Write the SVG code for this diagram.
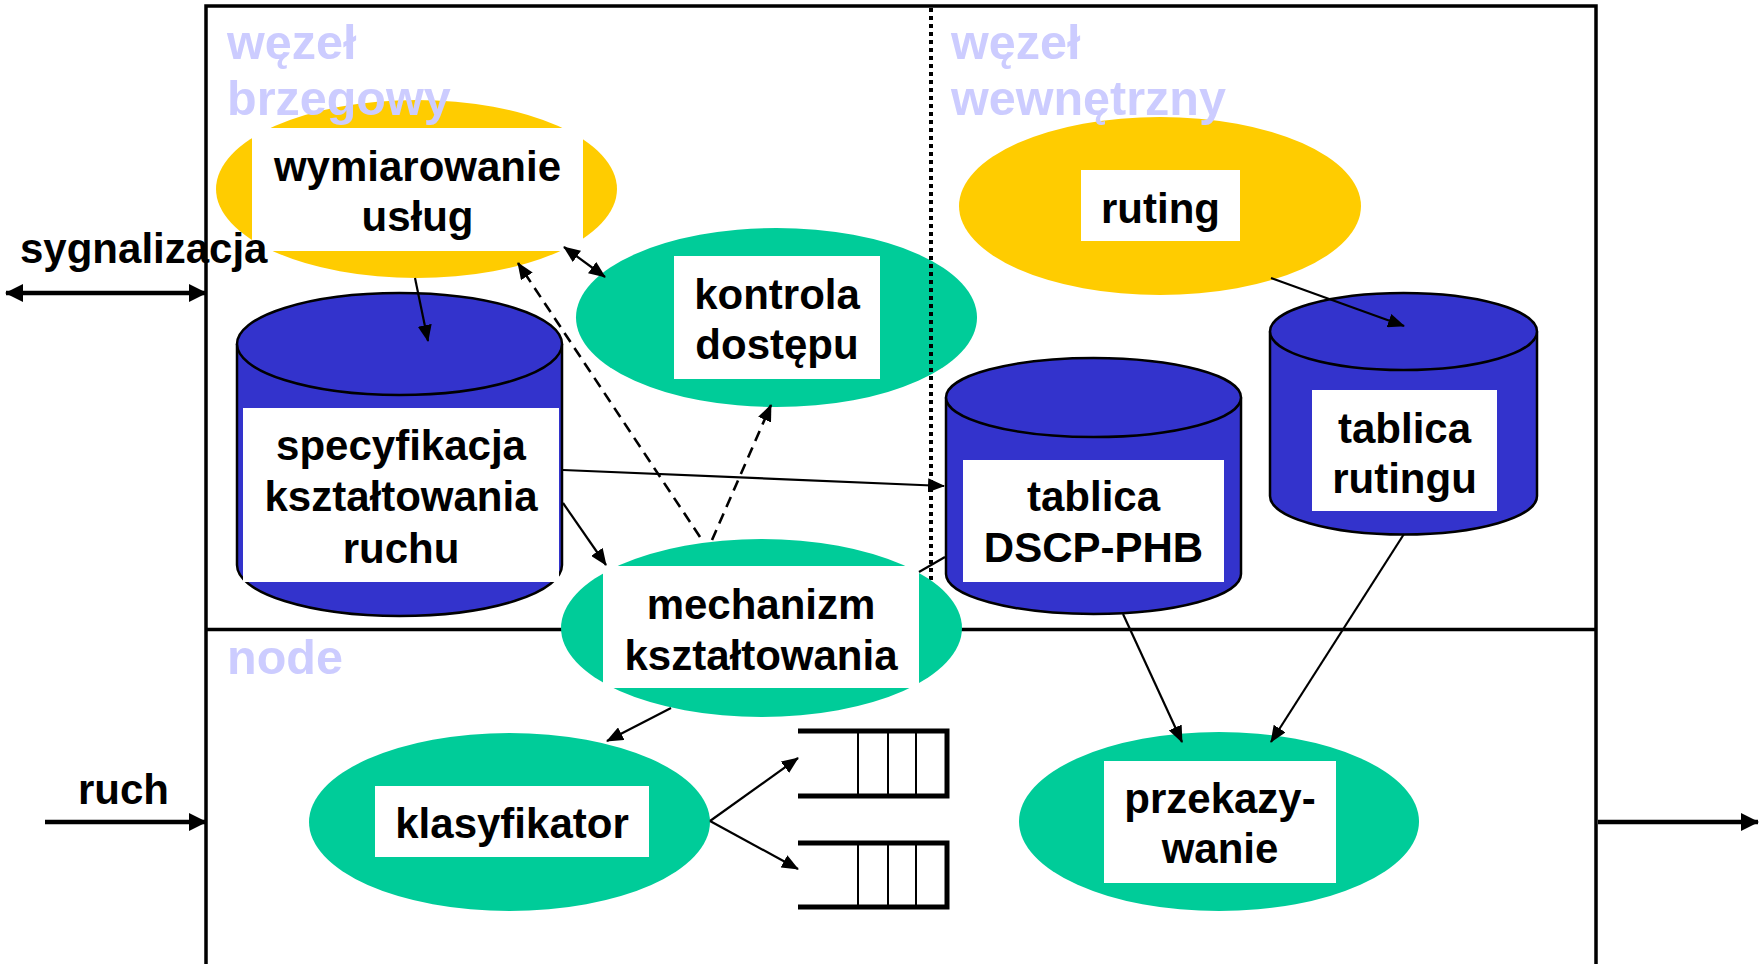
<svg xmlns="http://www.w3.org/2000/svg" width="1762" height="964" viewBox="0 0 1762 964">
<style>
  .lbl{font-family:"Liberation Sans",Arial,sans-serif;font-weight:bold;font-size:42px;fill:#000;text-anchor:middle}
  .out{font-family:"Liberation Sans",Arial,sans-serif;font-weight:bold;font-size:42px;fill:#000}
  .zone{font-family:"Liberation Sans",Arial,sans-serif;font-weight:bold;font-size:48.5px;fill:#CCCCFF}
  .box{fill:#fff}
  .yel{fill:#FFCC00}
  .grn{fill:#00CC99}
  .cyl{fill:#3333CC;stroke:#000;stroke-width:2.5}
  .thin{stroke:#000;stroke-width:2.2;fill:none}
  .thick{stroke:#000;stroke-width:4.5;fill:none}
  .dash{stroke:#000;stroke-width:2.6;fill:none;stroke-dasharray:11 7}
  .q{stroke:#000;fill:none}
</style>
<defs>
  <marker id="ah" markerUnits="userSpaceOnUse" viewBox="0 0 17 14" refX="16" refY="7" markerWidth="17" markerHeight="14" orient="auto-start-reverse">
    <path d="M0,0 L17,7 L0,14 Z" fill="#000"/>
  </marker>
  <marker id="ahb" markerUnits="userSpaceOnUse" viewBox="0 0 18 18" refX="17" refY="9" markerWidth="18" markerHeight="18" orient="auto-start-reverse">
    <path d="M0,0 L18,9 L0,18 Z" fill="#000"/>
  </marker>
</defs>

<g id="kontrola">
  <ellipse class="grn" cx="776.5" cy="317.5" rx="200.5" ry="89.5"/>
  <rect class="box" x="674" y="256" width="206" height="123"/>
  <text class="lbl" x="777" y="309">kontrola</text>
  <text class="lbl" x="777" y="359">dostępu</text>
</g>

<g id="frame">
  <path d="M206,966 V6 H1596 V966" fill="none" stroke="#000" stroke-width="3.5"/>
  <line x1="206" y1="629.5" x2="1596" y2="629.5" stroke="#000" stroke-width="3.5"/>
  <line x1="931" y1="8" x2="931" y2="628" stroke="#000" stroke-width="4" stroke-dasharray="4 4"/>
</g>

<g id="wymiarowanie">
  <ellipse class="yel" cx="416.5" cy="189" rx="200.5" ry="89"/>
  <rect class="box" x="252" y="128" width="331" height="123"/>
  <text class="lbl" x="417.5" y="181">wymiarowanie</text>
  <text class="lbl" x="417.5" y="231">usług</text>
</g>

<g id="ruting">
  <ellipse class="yel" cx="1160" cy="206" rx="201" ry="89"/>
  <rect class="box" x="1081" y="170" width="159" height="71"/>
  <text class="lbl" x="1160.5" y="223">ruting</text>
</g>

<g id="specyfikacja">
  <path class="cyl" d="M237,344 V565 A162.5,51 0 0 0 562,565 V344"/>
  <ellipse class="cyl" cx="399.5" cy="344" rx="162.5" ry="51"/>
  <rect class="box" x="243" y="408" width="316" height="174"/>
  <text class="lbl" x="401" y="460">specyfikacja</text>
  <text class="lbl" x="401" y="511">kształtowania</text>
  <text class="lbl" x="401" y="563">ruchu</text>
</g>

<g id="dscp">
  <path class="cyl" d="M946,397.5 V574 A147.5,40 0 0 0 1241,574 V397.5"/>
  <ellipse class="cyl" cx="1093.5" cy="397.5" rx="147.5" ry="39.5"/>
  <rect class="box" x="963" y="460" width="261" height="122"/>
  <text class="lbl" x="1093.5" y="511">tablica</text>
  <text class="lbl" x="1093.5" y="562">DSCP-PHB</text>
</g>

<g id="tablica-rutingu">
  <path class="cyl" d="M1270,331.5 V496 A133.5,38.5 0 0 0 1537,496 V331.5"/>
  <ellipse class="cyl" cx="1403.5" cy="331.5" rx="133.5" ry="38.5"/>
  <rect class="box" x="1312" y="390" width="185" height="121"/>
  <text class="lbl" x="1404.5" y="443">tablica</text>
  <text class="lbl" x="1404.5" y="493">rutingu</text>
</g>

<g id="mechanizm">
  <ellipse class="grn" cx="761.5" cy="628" rx="200.5" ry="89"/>
  <rect class="box" x="603" y="566" width="316" height="122"/>
  <text class="lbl" x="761" y="619">mechanizm</text>
  <text class="lbl" x="761" y="670">kształtowania</text>
</g>

<g id="klasyfikator">
  <ellipse class="grn" cx="509.5" cy="822" rx="200.5" ry="89"/>
  <rect class="box" x="375" y="786" width="274" height="71"/>
  <text class="lbl" x="512" y="838">klasyfikator</text>
</g>

<g id="przekazywanie">
  <ellipse class="grn" cx="1219" cy="821.5" rx="200" ry="89.5"/>
  <rect class="box" x="1104" y="761" width="232" height="122"/>
  <text class="lbl" x="1220" y="813">przekazy-</text>
  <text class="lbl" x="1220" y="863">wanie</text>
</g>

<g id="kolejka1">
  <path class="q" stroke-width="5" d="M798,731 H947 V796 H798"/>
  <path class="q" stroke-width="2" d="M858,731 V796 M888,731 V796 M916,731 V796"/>
</g>

<g id="kolejka2">
  <path class="q" stroke-width="5" d="M798,843 H947 V907 H798"/>
  <path class="q" stroke-width="2" d="M858,843 V907 M888,843 V907 M916,843 V907"/>
</g>

<g id="zones">
  <text class="zone" x="227" y="59">węzeł</text>
  <text class="zone" x="227" y="115">brzegowy</text>
  <text class="zone" x="951" y="59">węzeł</text>
  <text class="zone" x="951" y="115">wewnętrzny</text>
  <text class="zone" x="227" y="674">node</text>
</g>

<g id="connectors">
  <line class="thick" x1="6" y1="293" x2="206" y2="293" marker-start="url(#ahb)" marker-end="url(#ahb)"/>
  <line class="thick" x1="45" y1="822" x2="206" y2="822" marker-end="url(#ahb)"/>
  <line class="thick" x1="1598" y1="822" x2="1758" y2="822" marker-end="url(#ahb)"/>
  <line class="thin" x1="415" y1="278" x2="428" y2="341" marker-end="url(#ah)"/>
  <line class="thin" x1="564" y1="247" x2="605" y2="277" marker-start="url(#ah)" marker-end="url(#ah)"/>
  <line class="dash" x1="700" y1="537" x2="518" y2="263" marker-end="url(#ah)"/>
  <line class="dash" x1="712" y1="540" x2="771" y2="405" marker-end="url(#ah)"/>
  <line class="thin" x1="563" y1="470" x2="944" y2="486" marker-end="url(#ah)"/>
  <line class="thin" x1="563" y1="503" x2="606" y2="565" marker-end="url(#ah)"/>
  <line class="thin" x1="945" y1="557" x2="919" y2="572"/>
  <line class="thin" x1="671" y1="708" x2="607" y2="741" marker-end="url(#ah)"/>
  <line class="thin" x1="710" y1="821" x2="798" y2="758" marker-end="url(#ah)"/>
  <line class="thin" x1="710" y1="821" x2="798" y2="869" marker-end="url(#ah)"/>
  <line class="thin" x1="1271" y1="278" x2="1404" y2="326" marker-end="url(#ah)"/>
  <line class="thin" x1="1123" y1="614" x2="1182" y2="742" marker-end="url(#ah)"/>
  <line class="thin" x1="1404" y1="534" x2="1271" y2="742" marker-end="url(#ah)"/>
</g>

<g id="outside-labels">
  <text class="out" x="20" y="263">sygnalizacja</text>
  <text class="out" x="78" y="804">ruch</text>
</g>
</svg>
